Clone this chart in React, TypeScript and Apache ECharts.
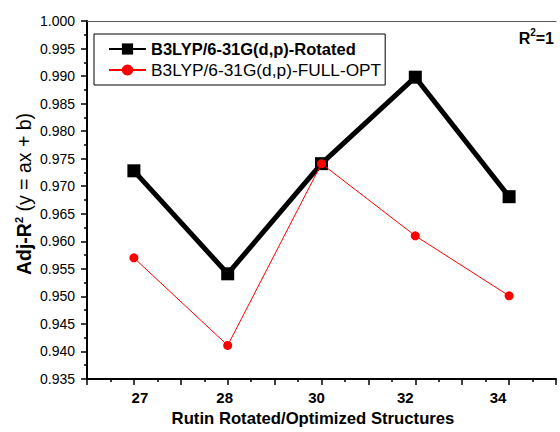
import React, { useEffect, useRef } from "react";
import * as echarts from "echarts";

const categories = ["27", "28", "30", "32", "34"];
const rotatedValues = [0.9728, 0.9541, 0.9741, 0.9898, 0.9681];
const fullOptValues = [0.957, 0.9411, 0.9741, 0.961, 0.9501];
const seriesNames = ["B3LYP/6-31G(d,p)-Rotated", "B3LYP/6-31G(d,p)-FULL-OPT"];
const yMin = 0.935;
const yMax = 1.0;
const yStep = 0.005;

// small per-label horizontal nudges (px) seen in the reference typesetting
const xLabelShift = [6, -3, -5, -10, -11];

const FONT = "'Liberation Sans', Arial, sans-serif";

export default function App() {
  const ref = useRef<HTMLDivElement>(null);
  useEffect(() => {
    if (!ref.current) return;
    const chart = echarts.init(ref.current, null, { renderer: "svg" });
    const labelRich: any = {};
    xLabelShift.forEach((s, i) => {
      labelRich["l" + i] = {
        fontSize: 15,
        fontWeight: "bold",
        color: "#000",
        fontFamily: FONT,
        padding: s >= 0 ? [0, 0, 0, 2 * s] : [0, -2 * s, 0, 0],
      };
    });
    const xLabel = (v: number) => {
      const i = Math.round(v);
      if (Math.abs(v - i) < 1e-6 && i >= 1 && i <= categories.length)
        return "{l" + (i - 1) + "|" + categories[i - 1] + "}";
      return "";
    };
    const option: any = {
      animation: false,
      backgroundColor: "#fff",
      textStyle: { fontFamily: FONT },
      grid: { left: 87, right: 4, top: 21, bottom: 51, containLabel: false },
      legend: {
        orient: "vertical",
        left: 94,
        top: 34,
        padding: [6, 4, 6, 14],
        itemGap: 3,
        itemWidth: 37,
        itemHeight: 14,
        borderColor: "#000",
        borderWidth: 1,
        textStyle: { fontSize: 16.5, color: "#000", fontFamily: FONT, lineHeight: 18 },
        data: [
          { name: seriesNames[0], textStyle: { fontWeight: "bold", fontSize: 16.5 } },
          { name: seriesNames[1], textStyle: { fontSize: 17.3 } },
        ],
      },
      xAxis: [
        {
          type: "value",
          position: "bottom",
          min: 0.5,
          max: 5.5,
          interval: 0.5,
          axisLine: { show: true, onZero: false, lineStyle: { color: "#000", width: 2 } },
          axisTick: { show: true, inside: false, length: 6, lineStyle: { color: "#000", width: 1.5 } },
          minorTick: { show: true, splitNumber: 2, length: 3, lineStyle: { color: "#000", width: 1.5 } },
          splitLine: { show: false },
          axisLabel: {
            formatter: xLabel,
            color: "#000",
            fontWeight: "bold",
            fontSize: 15,
            margin: 11,
            fontFamily: FONT,
            rich: labelRich,
          },
          name: "Rutin Rotated/Optimized Structures",
          nameLocation: "middle",
          nameGap: 31,
          nameTextStyle: {
            fontWeight: "bold",
            fontSize: 16.7,
            color: "#000",
            fontFamily: FONT,
            padding: [0, 17, 0, 0],
          },
        },
        {
          type: "value",
          position: "top",
          min: 0.5,
          max: 5.5,
          axisLine: { show: true, onZero: false, lineStyle: { color: "#555", width: 1 } },
          axisTick: { show: false },
          axisLabel: { show: false },
          splitLine: { show: false },
        },
      ],
      yAxis: {
        type: "value",
        min: yMin,
        max: yMax,
        interval: yStep,
        axisLine: { show: true, onZero: false, lineStyle: { color: "#000", width: 2 } },
        axisTick: { show: true, inside: false, length: 6, lineStyle: { color: "#000", width: 1.5 } },
        minorTick: { show: true, splitNumber: 2, length: 3, lineStyle: { color: "#000", width: 1.5 } },
        splitLine: { show: false },
        axisLabel: {
          formatter: (v: number) => v.toFixed(3),
          color: "#000",
          fontSize: 14,
          margin: 12,
          fontFamily: FONT,
        },
      },
      graphic: [
        {
          type: "text",
          x: 24,
          y: 194,
          rotation: Math.PI / 2,
          style: {
            text: "{b|Adj-R}{s|2}{n| (y = ax + b)}",
            align: "center",
            verticalAlign: "middle",
            fill: "#000",
            rich: {
              b: { fontSize: 19.5, fontWeight: "bold", fontFamily: FONT, fill: "#000", lineHeight: 22 },
              s: { fontSize: 11, fontWeight: "bold", fontFamily: FONT, fill: "#000", verticalAlign: "top", lineHeight: 22 },
              n: { fontSize: 19.5, fontFamily: FONT, fill: "#000", lineHeight: 22 },
            },
          },
        },
        {
          type: "text",
          x: 554,
          y: 38,
          style: {
            text: "{b|R}{s|2}{b|=1}",
            align: "right",
            verticalAlign: "middle",
            fill: "#000",
            rich: {
              b: { fontSize: 16, fontWeight: "bold", fontFamily: FONT, fill: "#000", lineHeight: 22 },
              s: { fontSize: 10, fontWeight: "bold", fontFamily: FONT, fill: "#000", verticalAlign: "top", lineHeight: 22 },
            },
          },
        },
      ],
      series: [
        {
          type: "line",
          name: seriesNames[0],
          data: rotatedValues.map((v, i) => [i + 1, v]),
          symbol: "rect",
          symbolSize: 13,
          lineStyle: { color: "#000", width: 5 },
          itemStyle: { color: "#000" },
          z: 2,
        },
        {
          type: "line",
          name: seriesNames[1],
          data: fullOptValues.map((v, i) => [i + 1, v]),
          symbol: "circle",
          symbolSize: 9,
          lineStyle: { color: "#ff0000", width: 1 },
          itemStyle: { color: "#ff0000" },
          z: 3,
        },
      ],
    };
    chart.setOption(option);
    return () => chart.dispose();
  }, []);
  return (
    <div
      ref={ref}
      style={{ position: "absolute", left: 0, top: 0, width: 560, height: 432 }}
    />
  );
}
